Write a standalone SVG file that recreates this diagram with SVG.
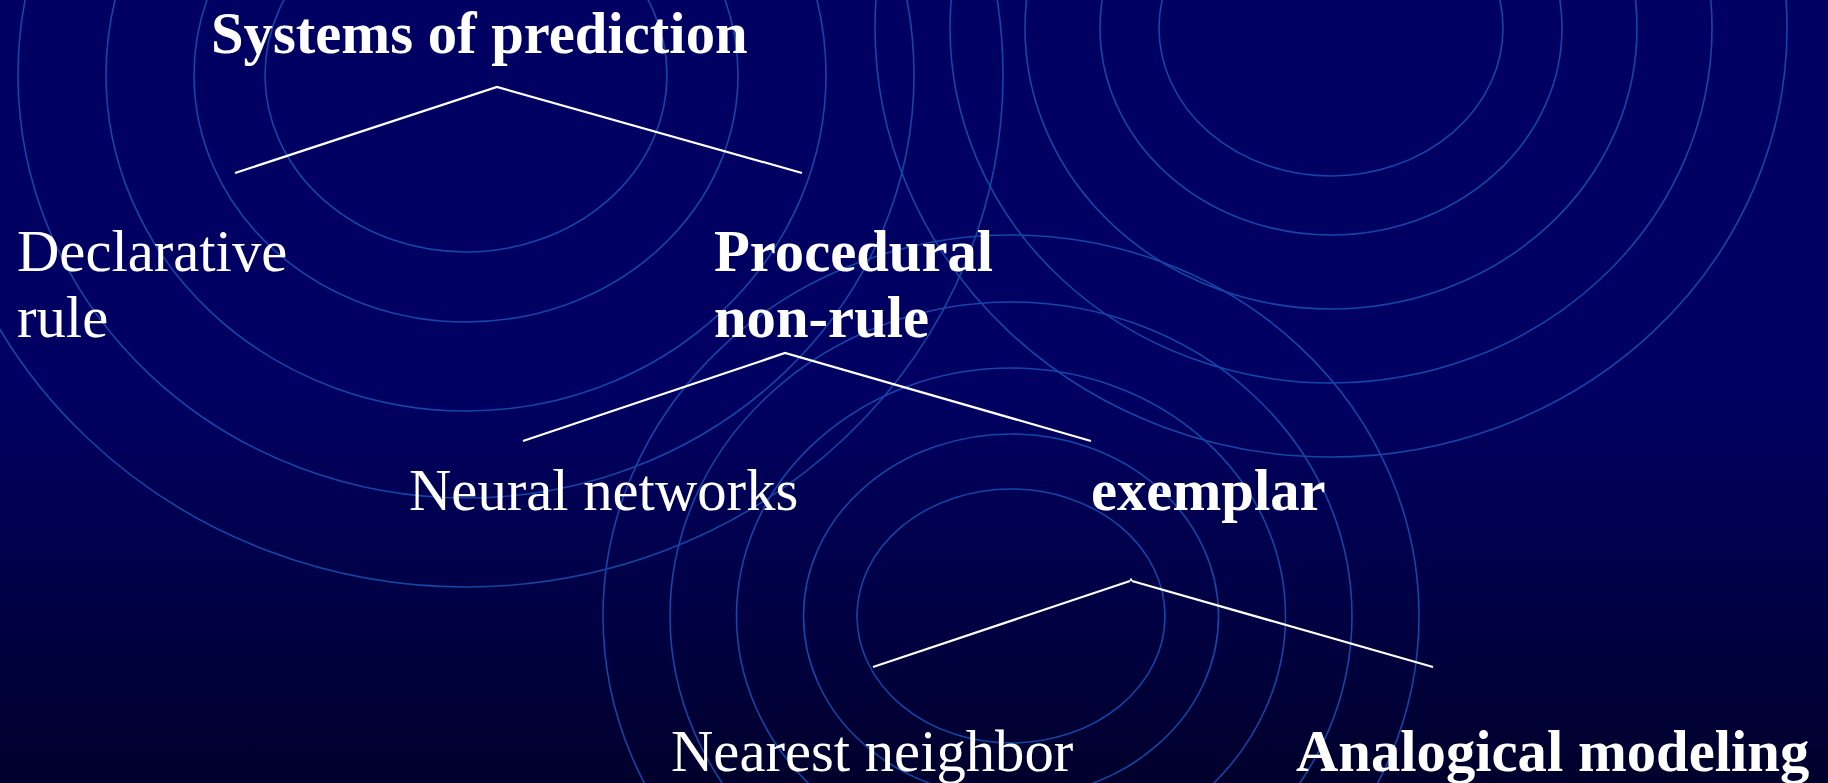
<svg xmlns="http://www.w3.org/2000/svg" width="1828" height="783" viewBox="0 0 1828 783">
  <defs>
    <linearGradient id="bg" x1="0" y1="0" x2="0" y2="1">
      <stop offset="0" stop-color="#000063"/>
      <stop offset="0.5" stop-color="#000062"/>
      <stop offset="1" stop-color="#00002C"/>
    </linearGradient>
  </defs>
  <style>
    .ring { fill: none; stroke: #1446A6; stroke-width: 1.6; }
    .conn { stroke: #FFFFFF; stroke-width: 2.2; stroke-linecap: butt; fill: none; }
    .lbl { font-family: "Liberation Serif", "Times New Roman", serif; font-size: 58.67px; fill: #FFFFFF; }
    .b { font-weight: bold; }
  </style>
  <rect x="0" y="0" width="1828" height="783" fill="url(#bg)"/>

  <g id="rings">
    <g id="rings-a">
      <ellipse class="ring" cx="466" cy="75" rx="201" ry="177"/>
      <ellipse class="ring" cx="466" cy="75" rx="272" ry="247"/>
      <ellipse class="ring" cx="466" cy="75" rx="360" ry="336"/>
      <ellipse class="ring" cx="466" cy="75" rx="448" ry="423"/>
      <ellipse class="ring" cx="466" cy="75" rx="537" ry="512"/>
    </g>
    <g id="rings-b">
      <ellipse class="ring" cx="1331" cy="28" rx="172" ry="148"/>
      <ellipse class="ring" cx="1331" cy="28" rx="231" ry="207"/>
      <ellipse class="ring" cx="1331" cy="28" rx="306" ry="281"/>
      <ellipse class="ring" cx="1331" cy="28" rx="381" ry="355"/>
      <ellipse class="ring" cx="1331" cy="28" rx="456" ry="429"/>
    </g>
    <g id="rings-c">
      <ellipse class="ring" cx="1011" cy="616" rx="154" ry="127"/>
      <ellipse class="ring" cx="1011" cy="616" rx="207.5" ry="182"/>
      <ellipse class="ring" cx="1011" cy="616" rx="274.5" ry="248"/>
      <ellipse class="ring" cx="1011" cy="616" rx="341" ry="314"/>
      <ellipse class="ring" cx="1011" cy="616" rx="408" ry="381"/>
    </g>
  </g>

  <g id="connectors">
    <polyline class="conn" points="235,173 497,87 802,173"/>
    <polyline class="conn" points="523,441 785,353 1091,441"/>
    <line class="conn" x1="873" y1="667" x2="1130" y2="581"/>
    <line class="conn" x1="1132" y1="581" x2="1433" y2="667"/>
    <line class="conn" x1="1131" y1="578.5" x2="1131" y2="581"/>
  </g>

  <g id="node-systems">
    <text class="lbl b" x="211" y="53">Systems of prediction</text>
  </g>
  <g id="node-declarative">
    <text class="lbl" x="17" y="271">Declarative</text>
    <text class="lbl" x="17" y="337">rule</text>
  </g>
  <g id="node-procedural">
    <text class="lbl b" x="714" y="271">Procedural</text>
    <text class="lbl b" x="714" y="337">non-rule</text>
  </g>
  <g id="node-neural">
    <text class="lbl" x="409" y="510">Neural networks</text>
  </g>
  <g id="node-exemplar">
    <text class="lbl b" x="1091" y="510">exemplar</text>
  </g>
  <g id="node-nearest">
    <text class="lbl" x="671" y="771">Nearest neighbor</text>
  </g>
  <g id="node-analogical">
    <text class="lbl b" x="1296" y="771">Analogical modeling</text>
  </g>
</svg>
